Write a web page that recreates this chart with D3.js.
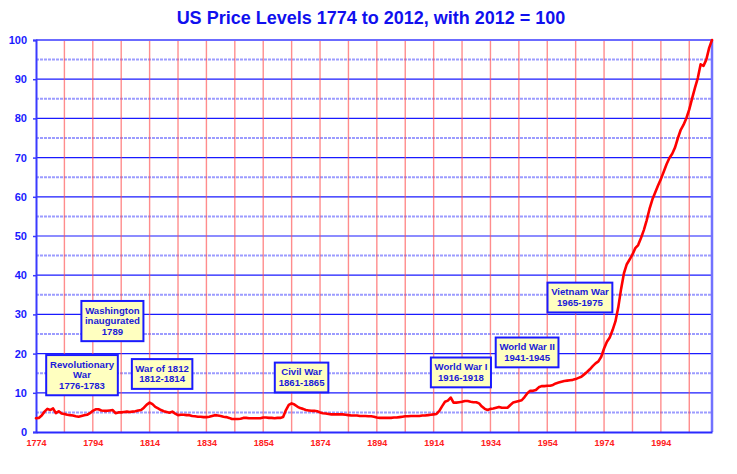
<!DOCTYPE html>
<html>
<head>
<meta charset="utf-8">
<script src="https://cdn.jsdelivr.net/npm/d3@7/dist/d3.min.js"></script>
<style>
  html, body { margin: 0; padding: 0; background: #fff; }
  svg { display: block; font-family: "Liberation Sans", Arial, sans-serif; }
</style>
</head>
<body>
<svg id="chart" width="737" height="474"></svg>
<script>
// ---- Data ----
const years = [
  1774,1775,1776,1777,1778,1779,1780,1781,1782,1783,1784,1785,1786,1787,1788,1789,1790,1791,1792,1793,
  1794,1795,1796,1797,1798,1799,1800,1801,1802,1803,1804,1805,1806,1807,1808,1809,1810,1811,1812,1813,
  1814,1815,1816,1817,1818,1819,1820,1821,1822,1823,1824,1825,1826,1827,1828,1829,1830,1831,1832,1833,
  1834,1835,1836,1837,1838,1839,1840,1841,1842,1843,1844,1845,1846,1847,1848,1849,1850,1851,1852,1853,
  1854,1855,1856,1857,1858,1859,1860,1861,1862,1863,1864,1865,1866,1867,1868,1869,1870,1871,1872,1873,
  1874,1875,1876,1877,1878,1879,1880,1881,1882,1883,1884,1885,1886,1887,1888,1889,1890,1891,1892,1893,
  1894,1895,1896,1897,1898,1899,1900,1901,1902,1903,1904,1905,1906,1907,1908,1909,1910,1911,1912,1913,
  1914,1915,1916,1917,1918,1919,1920,1921,1922,1923,1924,1925,1926,1927,1928,1929,1930,1931,1932,1933,
  1934,1935,1936,1937,1938,1939,1940,1941,1942,1943,1944,1945,1946,1947,1948,1949,1950,1951,1952,1953,
  1954,1955,1956,1957,1958,1959,1960,1961,1962,1963,1964,1965,1966,1967,1968,1969,1970,1971,1972,1973,
  1974,1975,1976,1977,1978,1979,1980,1981,1982,1983,1984,1985,1986,1987,1988,1989,1990,1991,1992,1993,
  1994,1995,1996,1997,1998,1999,2000,2001,2002,2003,2004,2005,2006,2007,2008,2009,2010,2011,2012
];
const priceLevel = [
  3.5,3.6,4.2,5.2,5.9,5.6,6.0,4.8,5.3,4.7,4.6,4.4,4.3,4.2,4.0,3.9,4.1,4.3,4.4,4.8,
  5.4,5.8,5.8,5.5,5.4,5.4,5.5,5.6,4.8,5.0,5.0,5.1,5.2,5.1,5.2,5.3,5.5,5.6,6.2,7.0,
  7.5,7.1,6.4,6.0,5.6,5.3,5.1,4.9,5.2,4.7,4.3,4.4,4.4,4.3,4.3,4.1,4.0,3.9,3.9,3.8,
  3.8,3.9,4.1,4.3,4.2,4.1,3.9,3.8,3.6,3.3,3.3,3.3,3.4,3.6,3.6,3.5,3.5,3.5,3.5,3.5,
  3.7,3.7,3.6,3.6,3.5,3.6,3.6,3.8,5.6,6.9,7.3,7.0,6.5,6.1,5.9,5.6,5.5,5.4,5.4,5.3,
  5.0,4.8,4.7,4.6,4.5,4.5,4.5,4.5,4.5,4.4,4.3,4.2,4.2,4.2,4.1,4.1,4.1,4.0,4.0,3.9,
  3.7,3.6,3.6,3.6,3.6,3.6,3.7,3.7,3.8,3.9,4.0,4.0,4.1,4.1,4.1,4.1,4.2,4.2,4.3,4.4,
  4.5,4.6,5.4,6.6,7.7,8.0,8.8,7.5,7.5,7.6,7.7,7.9,7.9,7.7,7.6,7.6,7.3,6.5,5.9,5.6,
  5.9,6.0,6.2,6.4,6.2,6.2,6.2,6.9,7.5,7.7,7.9,8.1,8.9,9.9,10.5,10.5,10.7,11.4,11.7,11.7,
  11.8,11.8,12.0,12.4,12.6,12.8,13.0,13.1,13.2,13.3,13.5,13.8,14.1,14.7,15.3,16.0,16.8,17.5,18.0,19.2,
  21.3,23.0,24.1,26.0,28.2,31.8,36.5,40.5,42.8,44.0,45.3,46.9,47.7,49.5,51.5,54.0,56.9,59.3,61.1,62.9,
  64.5,66.4,68.3,69.9,71.0,72.6,75.0,77.1,78.4,80.1,82.3,85.1,87.8,90.3,93.8,93.4,95.0,98.0,100.0
];
const xTickYears = [1774,1794,1814,1834,1854,1874,1894,1914,1934,1954,1974,1994];
const xGridYears = [1784,1794,1804,1814,1824,1834,1844,1854,1864,1874,1884,1894,1904,1914,1924,1934,1944,1954,1964,1974,1984,1994,2004];
const yTickValues = [0,10,20,30,40,50,60,70,80,90,100];
const yMinorValues = [5,15,25,35,45,55,65,75,85,95];
const titleText = "US Price Levels 1774 to 2012, with 2012 = 100";
// annotation labels, anchored at (year, price level) of their centre
const annotationLines = [
  ["Washington","inaugurated","1789"],
  ["Revolutionary","War","1776-1783"],
  ["War of 1812","1812-1814"],
  ["Civil War","1861-1865"],
  ["World War I","1916-1918"],
  ["World War II","1941-1945"],
  ["Vietnam War","1965-1975"]
];
const annotationYear  = [1800.9, 1790.2, 1818.4, 1867.5, 1923.6, 1946.9, 1965.5];
const annotationLevel = [28.3, 14.5, 14.8, 13.9, 15.2, 20.3, 34.3];

// ---- Layout ----
const svg = d3.select("#chart");
const margin = {left: 36, right: 25, top: 40, bottom: 42};
const W = 737, H = 474;
const x = d3.scaleLinear().domain([1774, 2012]).range([margin.left, W - margin.right]);
const y = d3.scaleLinear().domain([0, 100]).range([H - margin.bottom, margin.top]);

// title
svg.append("text")
  .attr("x", 371).attr("y", 24)
  .attr("text-anchor", "middle")
  .attr("font-size", 18).attr("font-weight", "bold")
  .attr("fill", "#1010ee")
  .text(titleText);

// minor horizontal grid
svg.append("g").selectAll("line").data(yMinorValues).join("line")
  .attr("x1", x(1774)).attr("x2", x(2012))
  .attr("y1", d => y(d)).attr("y2", d => y(d))
  .attr("stroke", "#9c9cff").attr("stroke-width", 2)
  .attr("stroke-dasharray", "3,1");

// major horizontal grid
svg.append("g").selectAll("line").data(yTickValues.filter(v => v > 0 && v < 100)).join("line")
  .attr("x1", x(1774)).attr("x2", x(2012))
  .attr("y1", d => y(d)).attr("y2", d => y(d))
  .attr("stroke", "#1a1aff").attr("stroke-width", 1.2);

// vertical grid
svg.append("g").selectAll("line").data(xGridYears).join("line")
  .attr("x1", d => x(d)).attr("x2", d => x(d))
  .attr("y1", y(0)).attr("y2", y(100))
  .attr("stroke", "#ff5050").attr("stroke-width", 1.4).attr("stroke-opacity", 0.65);

// frame: top and right
svg.append("line")
  .attr("x1", x(1774)).attr("x2", x(2012)).attr("y1", y(100)).attr("y2", y(100))
  .attr("stroke", "#6b6bff").attr("stroke-width", 2);
svg.append("line")
  .attr("x1", x(2012)).attr("x2", x(2012)).attr("y1", y(0)).attr("y2", y(100))
  .attr("stroke", "#7272ff").attr("stroke-width", 2.5);

// y axis
const yAxis = d3.axisLeft(y).tickValues(yTickValues).tickSize(3).tickPadding(6);
const gy = svg.append("g").attr("transform", `translate(${x(1774)},0)`).call(yAxis);
gy.select(".domain").attr("stroke", "#3a3aff").attr("stroke-width", 2);
gy.selectAll(".tick line").attr("stroke", "#3a3aff").attr("stroke-width", 1.5);
gy.selectAll(".tick text")
  .attr("font-family", "Liberation Sans, Arial, sans-serif")
  .attr("font-size", 11).attr("font-weight", "bold").attr("fill", "#1a1aff");

// x axis
const xAxis = d3.axisBottom(x).tickValues(xTickYears).tickFormat(d3.format("d")).tickSize(0).tickPadding(8);
const gx = svg.append("g").attr("transform", `translate(0,${y(0)})`).call(xAxis);
gx.select(".domain").attr("stroke", "#2a2aff").attr("stroke-width", 2.2);
gx.selectAll(".tick text")
  .attr("font-family", "Liberation Sans, Arial, sans-serif")
  .attr("font-size", 9).attr("font-weight", "bold").attr("fill", "#ff2020");

// price line
const series = years.map((yr, i) => ({year: yr, v: priceLevel[i]}));
svg.append("path").datum(series)
  .attr("fill", "none").attr("stroke", "#ff0000").attr("stroke-width", 2.6)
  .attr("stroke-linejoin", "round").attr("stroke-linecap", "round")
  .attr("d", d3.line().x(d => x(d.year)).y(d => y(d.v)));

// annotations
const fontSize = 9.6, lineH = 10.4;
annotationLines.forEach((lines, i) => {
  const cx = x(annotationYear[i]), cy = y(annotationLevel[i]);
  const g = svg.append("g");
  const rect = g.append("rect");
  const t = g.append("text")
    .attr("text-anchor", "middle")
    .attr("font-size", fontSize).attr("font-weight", "bold").attr("fill", "#1a1ad8");
  const top = cy - (lines.length * lineH) / 2;
  lines.forEach((ln, j) => {
    t.append("tspan").attr("x", cx).attr("y", top + j * lineH + lineH * 0.8).text(ln);
  });
  const bb = t.node().getBBox();
  const padX = 3.5, padY = 5;
  const w = bb.width + 2 * padX, h = lines.length * lineH + 2 * padY - 1;
  rect.attr("x", cx - w / 2).attr("y", cy - h / 2).attr("width", w).attr("height", h)
    .attr("fill", "#ffffc0").attr("stroke", "#1a1aff").attr("stroke-width", 2);
});
</script>
</body>
</html>
